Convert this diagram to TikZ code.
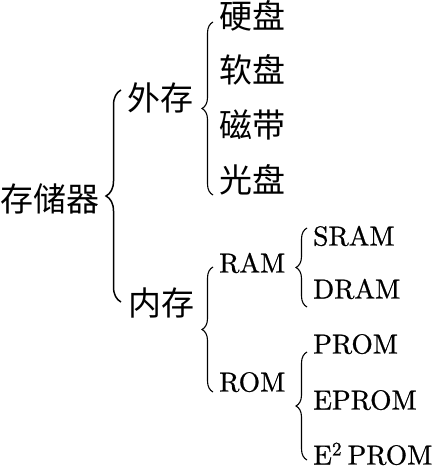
\documentclass[tikz,border=0pt]{standalone}
\usepackage{fontspec}
\newfontfamily\cjk{Noto Sans CJK SC}
\newfontfamily\lmten{lmroman10-regular.otf}[FakeBold=0.8]
\usetikzlibrary{decorations.pathreplacing}

\begin{document}
\begin{tikzpicture}[x=1pt,y=-1pt,
  every node/.style={inner sep=0pt,anchor=west},
  zh/.style={font=\cjk\fontsize{33}{33}\selectfont,text height=25pt,text depth=2.5pt},
  en/.style={font=\lmten\fontsize{27.5}{28}\selectfont,text height=19pt,text depth=0pt},
  brc/.style={decorate,decoration={brace,amplitude=11pt},line width=1.1pt}]
  \useasboundingbox (0,0) rectangle (435,470);
  \node [zh] (cunchu) at (0,200) {存储器};
  \node [zh] (wai) at (127,99) {外存};
  \node [zh] (nei) at (128,304) {内存};
  \node [zh] (yingpan) at (219,17) {硬盘};
  \node [zh] (ruanpan) at (219,71) {软盘};
  \node [zh] (cidai) at (219,126) {磁带};
  \node [zh] (guangpan) at (219,181) {光盘};
  \node [en] (ram) at (219,263) {RAM};
  \node [en] (rom) at (219,382) {ROM};
  \node [en] (sram) at (313,236) {SRAM};
  \node [en] (dram) at (313,289) {DRAM};
  \node [en] (prom) at (313,344) {PROM};
  \node [en] (eprom) at (313,400) {EPROM};
  \node [en] (eeprom) at (313,455) {E\textsuperscript{2}\hspace{0.2em}PROM};
  % braces
  \draw [brc,decoration={amplitude=15pt},line width=1.5pt]
    ([xshift=-7pt,yshift=2pt]nei.west) -- ([xshift=-6pt,yshift=9pt]wai.west);
  \draw [brc] ([xshift=-6pt,yshift=-14pt]guangpan.west) -- ([xshift=-6pt,yshift=-5pt]yingpan.west);
  \draw [brc] ([xshift=-6pt,yshift=-10pt]rom.west) -- ([xshift=-6pt,yshift=-4pt]ram.west);
  \draw [brc] ([xshift=-6pt,yshift=-18pt]dram.west) -- ([xshift=-6pt,yshift=8pt]sram.west);
  \draw [brc] ([xshift=-6pt,yshift=-5pt]eeprom.west) -- ([xshift=-6pt,yshift=-8pt]prom.west);
\end{tikzpicture}
\end{document}
